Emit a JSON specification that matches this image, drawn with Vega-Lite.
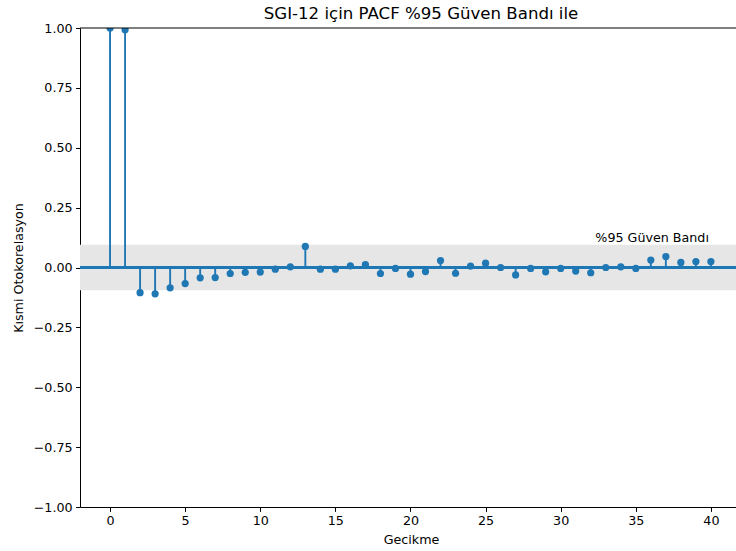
{
  "$schema": "https://vega.github.io/schema/vega-lite/v6.json",
  "width": 656,
  "height": 479,
  "autosize": {"type": "none"},
  "padding": {"left": 80, "top": 28, "right": 0, "bottom": 44},
  "background": "white",
  "title": {
    "text": "SGI-12 için PACF %95 Güven Bandı ile",
    "font": "DejaVu Sans",
    "fontSize": 16.6,
    "fontWeight": "normal",
    "color": "#000000",
    "anchor": "middle",
    "frame": "group",
    "baseline": "alphabetic",
    "offset": -14,
    "dx": 13
  },
  "config": {
    "view": {"stroke": null},
    "axis": {
      "labelFont": "DejaVu Sans",
      "labelFontSize": 12.7,
      "labelColor": "#000000",
      "titleFont": "DejaVu Sans",
      "titleFontSize": 12.7,
      "titleFontWeight": "normal",
      "titleColor": "#000000",
      "domainColor": "#000000",
      "domainWidth": 1,
      "tickColor": "#000000",
      "tickWidth": 1,
      "tickSize": 4.4,
      "labelPadding": 3.5,
      "grid": false
    }
  },
  "datasets": {
    "pacf": [
      {"lag": 0, "pacf": 1.0},
      {"lag": 1, "pacf": 0.993},
      {"lag": 2, "pacf": -0.105},
      {"lag": 3, "pacf": -0.11},
      {"lag": 4, "pacf": -0.085},
      {"lag": 5, "pacf": -0.067},
      {"lag": 6, "pacf": -0.043},
      {"lag": 7, "pacf": -0.042},
      {"lag": 8, "pacf": -0.025},
      {"lag": 9, "pacf": -0.02},
      {"lag": 10, "pacf": -0.019},
      {"lag": 11, "pacf": -0.007},
      {"lag": 12, "pacf": 0.003},
      {"lag": 13, "pacf": 0.088},
      {"lag": 14, "pacf": -0.007},
      {"lag": 15, "pacf": -0.007},
      {"lag": 16, "pacf": 0.007},
      {"lag": 17, "pacf": 0.012},
      {"lag": 18, "pacf": -0.025},
      {"lag": 19, "pacf": -0.004},
      {"lag": 20, "pacf": -0.028},
      {"lag": 21, "pacf": -0.017},
      {"lag": 22, "pacf": 0.029},
      {"lag": 23, "pacf": -0.024},
      {"lag": 24, "pacf": 0.006},
      {"lag": 25, "pacf": 0.018},
      {"lag": 26, "pacf": 0.0},
      {"lag": 27, "pacf": -0.031},
      {"lag": 28, "pacf": -0.004},
      {"lag": 29, "pacf": -0.018},
      {"lag": 30, "pacf": -0.004},
      {"lag": 31, "pacf": -0.015},
      {"lag": 32, "pacf": -0.022},
      {"lag": 33, "pacf": 0.0},
      {"lag": 34, "pacf": 0.003},
      {"lag": 35, "pacf": -0.004},
      {"lag": 36, "pacf": 0.031},
      {"lag": 37, "pacf": 0.046},
      {"lag": 38, "pacf": 0.021},
      {"lag": 39, "pacf": 0.025},
      {"lag": 40, "pacf": 0.025}
    ],
    "band": [
      {"lower": -0.095, "upper": 0.095, "label": "%95 Güven Bandı", "label_lag": 40, "label_y": 0.105}
    ]
  },
  "layer": [
    {
      "data": {"name": "band"},
      "mark": {"type": "rect", "color": "#e6e6e6"},
      "encoding": {
        "y": {
          "field": "lower",
          "type": "quantitative",
          "scale": {"domain": [-1, 1], "nice": false, "zero": false},
          "axis": {
            "values": [-1, -0.75, -0.5, -0.25, 0, 0.25, 0.5, 0.75, 1],
            "format": ".2f",
            "title": "Kısmi Otokorelasyon",
            "titleBaseline": "alphabetic",
            "titleX": -58
          }
        },
        "y2": {"field": "upper"}
      }
    },
    {
      "data": {"name": "pacf"},
      "mark": {"type": "rule", "color": "#1f77b4", "strokeWidth": 1.5},
      "encoding": {"y": {"datum": 0, "type": "quantitative"}}
    },
    {
      "data": {"name": "pacf"},
      "mark": {"type": "rule", "color": "#1f77b4", "strokeWidth": 1.9, "clip": true},
      "encoding": {
        "x": {
          "field": "lag",
          "type": "quantitative",
          "scale": {"domain": [-2, 41.67], "nice": false, "zero": false},
          "axis": {
            "values": [0, 5, 10, 15, 20, 25, 30, 35, 40],
            "format": "d",
            "title": "Gecikme",
            "titleX": 331,
            "titleY": 36,
            "titleBaseline": "alphabetic"
          }
        },
        "y": {"field": "pacf", "type": "quantitative"},
        "y2": {"datum": 0}
      }
    },
    {
      "data": {"name": "pacf"},
      "mark": {"type": "circle", "color": "#1f77b4", "opacity": 1, "size": 52, "clip": true},
      "encoding": {
        "x": {"field": "lag", "type": "quantitative"},
        "y": {"field": "pacf", "type": "quantitative"}
      }
    },
    {
      "data": {"name": "band"},
      "mark": {"type": "text", "align": "right", "baseline": "alphabetic", "font": "DejaVu Sans", "fontSize": 12.7, "color": "#000000", "dx": -2},
      "encoding": {
        "x": {"field": "label_lag", "type": "quantitative"},
        "y": {"field": "label_y", "type": "quantitative"},
        "text": {"field": "label"}
      }
    },
    {
      "data": {"name": "band"},
      "mark": {"type": "rule", "color": "#000000", "strokeWidth": 1},
      "encoding": {"y": {"datum": 1, "type": "quantitative"}}
    }
  ]
}
